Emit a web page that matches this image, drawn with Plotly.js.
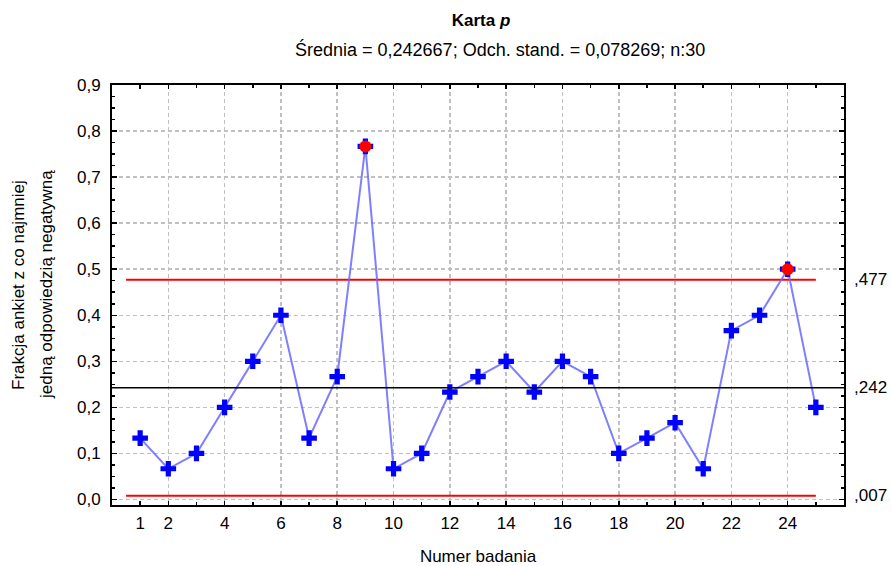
<!DOCTYPE html>
<html>
<head>
<meta charset="utf-8">
<script src="https://cdn.plot.ly/plotly-3.0.1.min.js"></script>
<style>html,body{margin:0;padding:0;background:#fff;}#chart{width:891px;height:566px;}</style>
</head>
<body>
<div id="chart"></div>
<script>
// Data
const samples = [1,2,3,4,5,6,7,8,9,10,11,12,13,14,15,16,17,18,19,20,21,22,23,24,25];
const fractions = [0.1333,0.0667,0.1000,0.2000,0.3000,0.4000,0.1333,0.2667,0.7667,0.0667,0.1000,0.2333,0.2667,0.3000,0.2333,0.3000,0.2667,0.1000,0.1333,0.1667,0.0667,0.3667,0.4000,0.5000,0.2000];
const outSamples = [9, 24];
const outFractions = [0.7667, 0.5000];
const centerLine = 0.242667;
const ucl = 0.477;
const lcl = 0.008;
const limitLabels = [",477", ",242", ",007"];
const xTickVals = [1,2,4,6,8,10,12,14,16,18,20,22,24];
const xTickText = ["1","2","4","6","8","10","12","14","16","18","20","22","24"];
const xGridVals = [2,4,6,8,10,12,14,16,18,20,22,24];
const limitX = [0.5, 25];
const fullX = [0, 26];

const FONT = "Liberation Sans, Arial, sans-serif";
const FS = 17;

const traces = [
  {x: fullX, y: [centerLine, centerLine], mode: 'lines', line: {color: '#000000', width: 1.5}, hoverinfo: 'skip', showlegend: false, xaxis: 'x2'},
  {x: limitX, y: [ucl, ucl], mode: 'lines', line: {color: '#ff0000', width: 2}, hoverinfo: 'skip', showlegend: false},
  {x: limitX, y: [lcl, lcl], mode: 'lines', line: {color: '#ff0000', width: 2}, hoverinfo: 'skip', showlegend: false},
  {x: samples, y: fractions, mode: 'lines+markers',
   line: {color: 'rgba(105,105,255,0.85)', width: 2},
   marker: {symbol: 'cross', size: 13, color: '#0000ff', line: {width: 0}},
   showlegend: false},
  {x: outSamples, y: outFractions, mode: 'markers',
   marker: {symbol: 'circle', size: 12, color: '#ff0000', line: {width: 0}},
   showlegend: false}
];

const gridCol = '#c0c0c0';
const layout = {
  width: 891, height: 566,
  margin: {l: 112, r: 47, t: 85, b: 61},
  paper_bgcolor: '#ffffff', plot_bgcolor: '#ffffff',
  separators: ', ',
  font: {family: FONT, size: FS, color: '#000000'},
  title: {text: '<b>Karta <i>p</i></b>', font: {family: FONT, size: FS, color: '#000'},
          x: 481 / 891, xref: 'container', xanchor: 'center', y: 1 - 20 / 566, yref: 'container', yanchor: 'middle'},
  xaxis: {
    range: [0, 26], tickmode: 'array', tickvals: xTickVals, ticktext: xTickText,
    showgrid: false,
    zeroline: false, showline: true, linecolor: '#000', linewidth: 2, mirror: 'ticks',
    ticks: 'inside', ticklen: 4, tickcolor: '#000', tickwidth: 1.5,
    minor: {dtick: 1, tick0: 0, ticks: 'inside', ticklen: 3, tickcolor: '#000', showgrid: false},
    ticklabelstandoff: 2,
    tickfont: {family: FONT, size: FS},
    title: {text: 'Numer badania', font: {family: FONT, size: FS}, standoff: 18}
  },
  xaxis2: {
    overlaying: 'x', matches: 'x', anchor: 'y', side: 'bottom',
    tickmode: 'array', tickvals: xGridVals,
    showgrid: true, gridcolor: gridCol, griddash: '4px,3px', gridwidth: 1.5,
    zeroline: false, showline: false, ticks: '', showticklabels: false
  },
  yaxis: {
    range: [-0.012, 0.9], tick0: 0, dtick: 0.1, tickformat: '.1f',
    showgrid: true, gridcolor: gridCol, griddash: '4px,3px', gridwidth: 1.5,
    zeroline: false, showline: true, linecolor: '#000', linewidth: 2, mirror: 'ticks',
    ticks: 'inside', ticklen: 5, tickcolor: '#000', tickwidth: 1.5,
    minor: {dtick: 0.025, tick0: 0, ticks: 'inside', ticklen: 3, tickcolor: '#000', showgrid: false},
    ticklabelstandoff: 6,
    tickfont: {family: FONT, size: FS}
  },
  annotations: [
    {text: 'Średnia = 0,242667; Odch. stand. = 0,078269; n:30', xref: 'paper', yref: 'paper',
     x: (500 - 112) / 732, y: (505 - 49) / 420, xanchor: 'center', yanchor: 'middle', showarrow: false,
     font: {family: FONT, size: 18}},
    {text: 'Frakcja ankiet z co najmniej', xref: 'paper', yref: 'paper', textangle: -90,
     x: (18 - 112) / 732, y: (505 - 285) / 420, xanchor: 'center', yanchor: 'middle', showarrow: false,
     font: {family: FONT, size: FS}},
    {text: 'jedną odpowiedzią negatywną', xref: 'paper', yref: 'paper', textangle: -90,
     x: (46 - 112) / 732, y: (505 - 285) / 420, xanchor: 'center', yanchor: 'middle', showarrow: false,
     font: {family: FONT, size: FS}},
    {text: limitLabels[0], xref: 'paper', yref: 'y', x: 1.011, y: ucl, xanchor: 'left', yanchor: 'middle', showarrow: false, font: {family: FONT, size: FS}},
    {text: limitLabels[1], xref: 'paper', yref: 'y', x: 1.011, y: centerLine, xanchor: 'left', yanchor: 'middle', showarrow: false, font: {family: FONT, size: FS}},
    {text: limitLabels[2], xref: 'paper', yref: 'y', x: 1.011, y: lcl, xanchor: 'left', yanchor: 'middle', showarrow: false, font: {family: FONT, size: FS}}
  ]
};

Plotly.newPlot('chart', traces, layout, {staticPlot: true, displayModeBar: false});
</script>
</body>
</html>
